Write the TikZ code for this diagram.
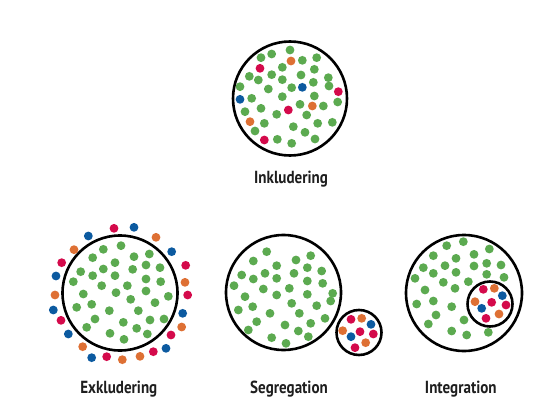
\documentclass[tikz,border=0pt]{standalone}
\usepackage{fontspec}
\setmainfont{PT Sans}
\definecolor{gc}{RGB}{92,170,80}
\definecolor{rc}{RGB}{212,10,75}
\definecolor{bc}{RGB}{12,90,160}
\definecolor{oc}{RGB}{222,112,52}
\definecolor{tc}{RGB}{30,30,30}
\newcommand{\labtxt}[1]{\scalebox{0.86}[1]{\bfseries #1}}
\tikzset{
  ring/.style={draw=black, line width=2.6pt},
  lab/.style={anchor=base, text=tc, inner sep=0pt, font=\fontsize{17.5}{20}\selectfont},
}
\newcommand{\dotset}[2]{\foreach \a/\b in {#2} \fill[#1] (\a/3,\b/3) circle[radius=4.4pt];}
\begin{document}
\begin{tikzpicture}[x=1pt,y=-1pt]
\useasboundingbox (0,0) rectangle (553,417);
% ---------- Inkludering ----------
\draw[ring] (290,98.5) circle[radius=57pt];
\begin{scope}[shift={(225,35)}]
\dotset{gc}{195/45, 140/57, 108/68, 232/76, 275/68, 172/97, 268/103, 73/124, 140/119, 228/120, 100/135, 172/134, 265/142, 310/128, 45/155, 130/162, 200/158, 312/153, 80/190, 172/185, 268/183, 338/201, 225/208, 295/213, 108/220, 60/230, 155/238, 245/240, 118/265, 278/265, 322/262, 205/275, 90/288, 240/292, 157/313, 200/325, 270/312}
\dotset{rc}{105/100, 340/170, 190/225, 118/315}
\dotset{oc}{198/78, 262/213, 75/260}
\dotset{bc}{232/157, 45/193}
\end{scope}
\node[lab] (inkl) at (291,183) {\labtxt{Inkludering}};
% ---------- Exkludering ----------
\draw[ring] (120,293) circle[radius=57.5pt];
\begin{scope}[shift={(40,215)}]
\dotset{rc}{222/40, 65/143, 437/151, 443/240, 63/316, 393/360, 200/425, 340/410}
\dotset{bc}{282/37, 145/63, 395/110, 48/183, 40/285, 428/295, 85/357, 378/400, 155/428}
\dotset{oc}{348/67, 102/104, 435/202, 45/240, 425/336, 128/395, 247/434, 300/424}
\dotset{gc}{243/92, 190/103, 158/128, 225/143, 282/125, 328/117, 122/170, 190/162, 278/163, 318/150, 360/158, 158/182, 225/182, 100/200, 185/212, 262/212, 318/192, 362/200, 130/237, 228/233, 318/228, 272/253, 385/244, 155/268, 110/277, 208/287, 345/263, 295/287, 165/312, 250/322, 330/315, 372/312, 140/337, 290/340, 210/355, 252/373, 322/357}
\end{scope}
\node[lab] (exkl) at (118.8,393) {\labtxt{Exkludering}};
% ---------- Segregation ----------
\draw[ring] (283.5,292.5) circle[radius=57.5pt];
\draw[ring] (359,332.5) circle[radius=22.5pt];
\begin{scope}[shift={(220,225)}]
\dotset{gc}{140/80, 100/108, 228/105, 272/92, 170/122, 262/128, 65/150, 135/145, 222/145, 305/138, 100/162, 170/160, 262/168, 308/175, 42/182, 130/192, 208/190, 262/208, 338/205, 75/215, 170/210, 332/228, 215/235, 290/242, 55/255, 98/245, 150/265, 238/265, 315/280, 110/290, 272/295, 85/315, 195/300, 235/318, 155/338, 265/335, 198/355}
\dotset{rc}{393/283, 420/320, 460/327, 405/368}
\dotset{oc}{425/280, 368/317, 437/353}
\dotset{bc}{453/298, 393/335}
\end{scope}
\node[lab] (segr) at (289,393) {\labtxt{Segregation}};
% ---------- Integration ----------
\draw[ring] (464,293) circle[radius=58pt];
\draw[ring] (490,304) circle[radius=22.5pt];
\begin{scope}[shift={(400,225)}]
\dotset{gc}{190/50, 140/62, 268/72, 100/92, 168/100, 222/88, 70/128, 135/122, 222/123, 260/115, 303/120, 100/145, 168/142, 260/148, 312/157, 45/160, 130/172, 205/170, 75/195, 165/190, 50/237, 100/228, 155/245, 108/270, 192/285, 85/297, 155/318, 200/330, 265/322}
\dotset{rc}{250/193, 275/232, 318/240, 258/280}
\dotset{oc}{283/190, 225/230, 297/267}
\dotset{bc}{307/212, 245/250}
\end{scope}
\node[lab] (integ) at (460.8,393) {\labtxt{Integration}};
\end{tikzpicture}
\end{document}
